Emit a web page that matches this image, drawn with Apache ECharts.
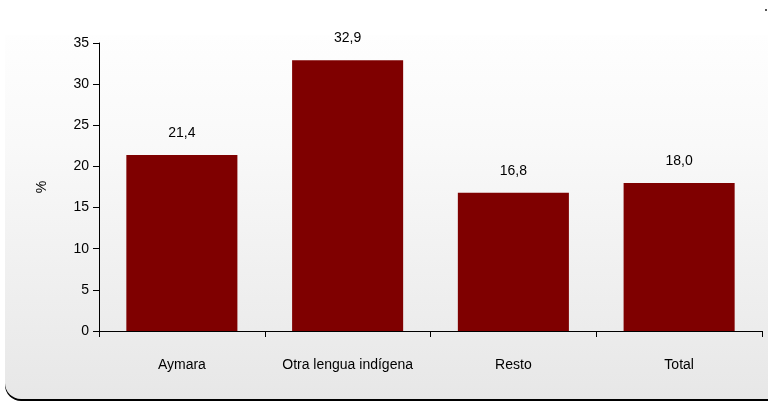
<!DOCTYPE html>
<html><head><meta charset="utf-8">
<script src="https://cdn.jsdelivr.net/npm/echarts@6/dist/echarts.min.js"></script>
<style>html,body{margin:0;padding:0;background:#fff}#c{width:768px;height:402px}</style>
</head><body><div id="c"></div>
<script>
var categories = ['Aymara', 'Otra lengua indígena', 'Resto', 'Total'];
var values = [21.4, 32.9, 16.8, 18.0];
var yTicks = [0, 5, 10, 15, 20, 25, 30, 35];

var chart = echarts.init(document.getElementById('c'));
var font = 'Liberation Sans, Arial, sans-serif';
chart.setOption({
  animation: false,
  graphic: [{
    type: 'rect', z: -10, silent: true,
    shape: { x: 5, y: 35, width: 790, height: 364, r: [0, 0, 22, 16] },
    style: {
      fill: new echarts.graphic.LinearGradient(0, 0, 0, 1, [
        { offset: 0, color: '#fefefe' }, { offset: 0.3, color: '#f9f9f9' }, { offset: 1, color: '#e7e7e7' }
      ]),
      shadowColor: '#000', shadowOffsetX: 0, shadowOffsetY: 2, shadowBlur: 0
    }
  }, {
    type: 'rect', z: -5, silent: true,
    shape: { x: 765, y: 9, width: 2, height: 2 },
    style: { fill: '#555' }
  }],
  grid: { left: 99, right: 6, top: 43, bottom: 71 },
  xAxis: {
    type: 'category', data: categories,
    axisLine: { lineStyle: { color: '#000', width: 1 } },
    axisTick: { show: true, inside: false, length: 6, interval: 0, lineStyle: { color: '#000' } },
    axisLabel: { color: '#000', fontFamily: font, fontSize: 14, margin: 27, interval: 0 }
  },
  yAxis: {
    type: 'value', min: 0, max: 35, interval: 5,
    name: '%', nameLocation: 'middle', nameGap: 50, nameRotate: 90,
    nameTextStyle: { color: '#000', fontFamily: font, fontSize: 14 },
    axisLine: { show: true, lineStyle: { color: '#000', width: 1 } },
    axisTick: { show: true, length: 6, lineStyle: { color: '#000' } },
    axisLabel: { color: '#000', fontFamily: font, fontSize: 14, margin: 10,
      formatter: function (v) { return yTicks.indexOf(v) >= 0 ? String(v) : ''; } },
    splitLine: { show: false }
  },
  series: [{
    type: 'bar', data: values, barWidth: '67%',
    itemStyle: { color: '#7f0000' },
    label: { show: true, position: 'top', distance: 15, color: '#000', fontFamily: font, fontSize: 14,
      formatter: function (p) { return p.value.toFixed(1).replace('.', ','); } }
  }]
});
</script></body></html>
